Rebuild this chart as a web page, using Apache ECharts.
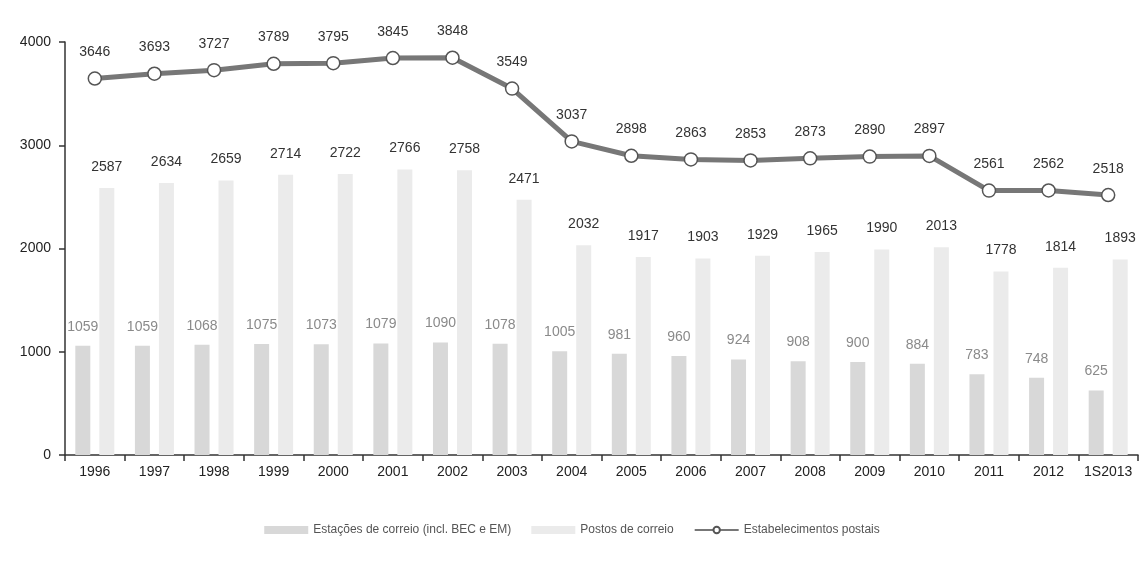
<!DOCTYPE html>
<html><head><meta charset="utf-8">
<script src="https://cdn.jsdelivr.net/npm/echarts@6/dist/echarts.min.js"></script>
<style>html,body{margin:0;padding:0;background:#fff}#c{width:1144px;height:563px}</style>
</head><body><div id="c"></div>
<script>
const categories = ['1996','1997','1998','1999','2000','2001','2002','2003','2004','2005','2006','2007','2008','2009','2010','2011','2012','1S2013'];
const estacoes = [1059,1059,1068,1075,1073,1079,1090,1078,1005,981,960,924,908,900,884,783,748,625];
const postos = [2587,2634,2659,2714,2722,2766,2758,2471,2032,1917,1903,1929,1965,1990,2013,1778,1814,1893];
const estabelecimentos = [3646,3693,3727,3789,3795,3845,3848,3549,3037,2898,2863,2853,2873,2890,2897,2561,2562,2518];
const yTicks = [0,1000,2000,3000,4000];

const chart = echarts.init(document.getElementById('c'));
const font = 'Liberation Sans, Arial, sans-serif';
chart.setOption({
  animation: false,
  textStyle: {fontFamily: font},
  grid: {left: 65, right: 6, top: 42, bottom: 108},
  legend: {
    bottom: 22, left: 'center', itemWidth: 44, itemHeight: 8, itemGap: 20,
    textStyle: {fontSize: 12, color: '#555', fontFamily: font},
    data: [
      {name: 'Estações de correio (incl. BEC e EM)', icon: 'rect'},
      {name: 'Postos de correio', icon: 'rect'},
      {name: 'Estabelecimentos postais'}
    ]
  },
  xAxis: {
    type: 'category', data: categories,
    axisLine: {lineStyle: {color: '#333', width: 1.5}},
    axisTick: {show: true, length: 6, lineStyle: {color: '#333', width: 1.5}},
    axisLabel: {color: '#222', fontSize: 14, margin: 10, interval: 0}
  },
  yAxis: {
    type: 'value', min: yTicks[0], max: yTicks[yTicks.length-1], interval: 1000,
    axisLine: {show: true, lineStyle: {color: '#333', width: 1.5}},
    axisTick: {show: true, length: 6, lineStyle: {color: '#333', width: 1.5}},
    splitLine: {show: false},
    axisLabel: {color: '#222', fontSize: 14, margin: 14, formatter: v => String(v)}
  },
  series: [
    {name: 'Estações de correio (incl. BEC e EM)', type: 'bar', data: estacoes,
     barWidth: 15, barGap: '60%',
     itemStyle: {color: '#d8d8d8'},
     label: {show: true, position: 'top', distance: 12, color: '#8a8a8a', fontSize: 14}},
    {name: 'Postos de correio', type: 'bar', data: postos,
     barWidth: 15,
     itemStyle: {color: '#ebebeb'},
     label: {show: true, position: 'top', distance: 14, color: '#333', fontSize: 14}},
    {name: 'Estabelecimentos postais', type: 'line', data: estabelecimentos,
     symbol: 'circle', symbolSize: 13,
     lineStyle: {color: '#777', width: 5},
     itemStyle: {color: '#fff', borderColor: '#555', borderWidth: 1.5},
     label: {show: true, position: 'top', distance: 12, color: '#333', fontSize: 14},
     z: 5}
  ]
});
</script></body></html>
